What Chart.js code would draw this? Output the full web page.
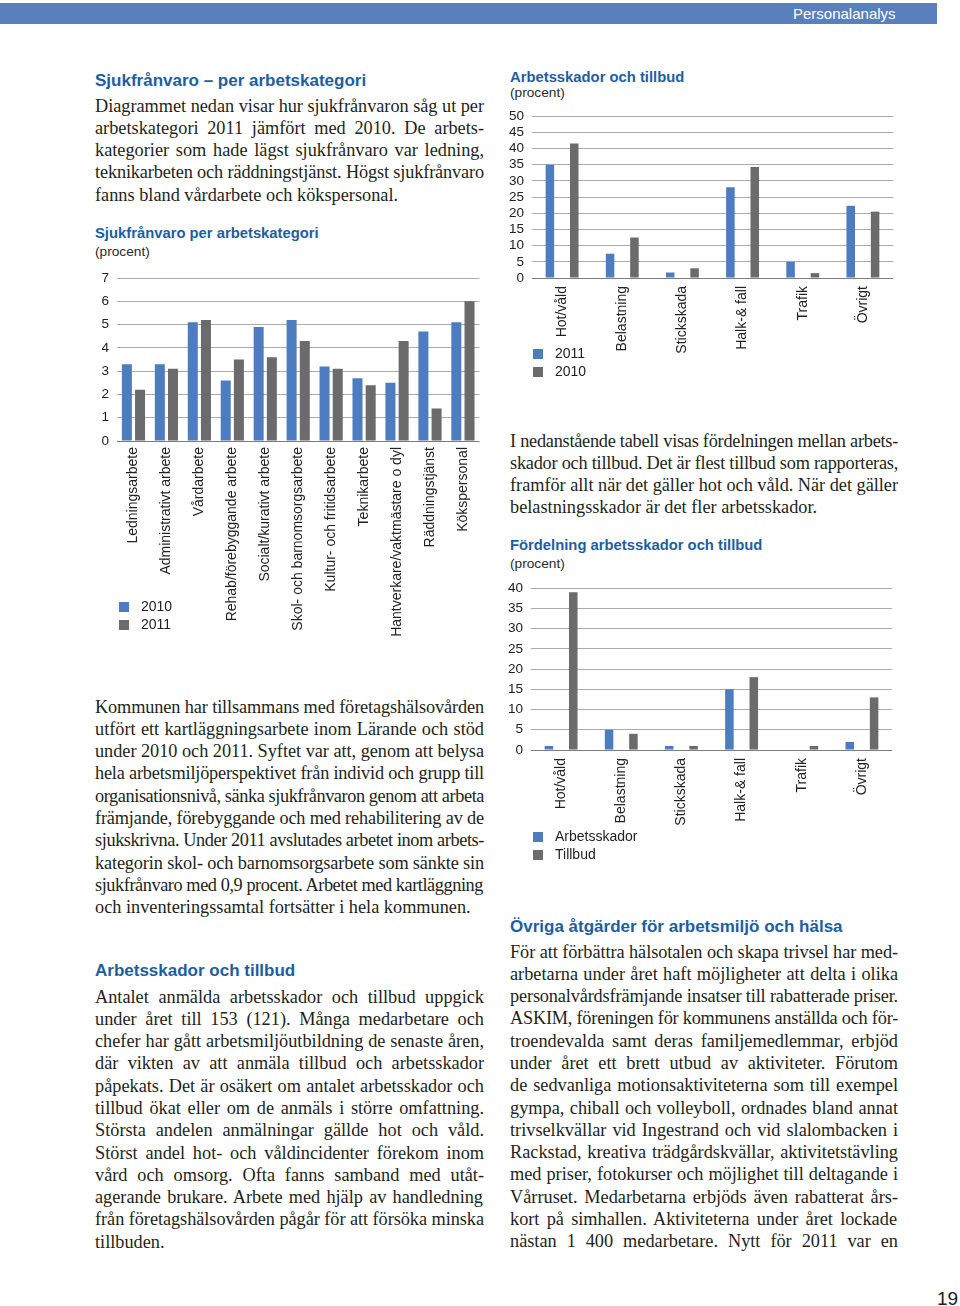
<!DOCTYPE html>
<html lang="sv">
<head>
<meta charset="utf-8">
<title>Personalanalys</title>
<script src="https://cdn.jsdelivr.net/npm/chart.js@4.4.0/dist/chart.umd.min.js"></script>
<style>
  body { margin: 0; width: 960px; height: 1306px; position: relative; background: #fff; overflow: hidden;
         font-family: "Liberation Sans", Arial, sans-serif; color: #231f20; }
  .topbar { position: absolute; left: 0; top: 3px; width: 937px; height: 21px; background: #5a7fbd; }
  .topbar span { position: absolute; left: 793px; top: 2px; color: #fff; font-size: 15px; line-height: 17px; }
  .head { position: absolute; margin: 0; font-size: 17px; font-weight: bold; color: #1d5ea3; line-height: 22px; white-space: nowrap; }
  .ctitle { position: absolute; font-size: 14.8px; font-weight: bold; color: #1d5ea3; line-height: 18px; white-space: nowrap; }
  .unit { position: absolute; font-size: 13.7px; color: #2b2b2b; line-height: 16px; }
  .para { position: absolute; font-family: "Liberation Serif", "Times New Roman", serif; font-size: 18.3px;
          line-height: 22.3px; color: #231f20; }
  .para div { white-space: nowrap; height: 22.3px; }
  .chartbox { position: absolute; }
  .legend { position: absolute; font-size: 14px; color: #222; }
  .legend div { height: 18.5px; line-height: 18.5px; white-space: nowrap; }
  .legend i { display: inline-block; width: 10px; height: 10px; margin-right: 12px; vertical-align: -1px; }
  .pageno { position: absolute; left: 937px; top: 1288px; font-size: 19px; line-height: 22px; color: #222; }
</style>
</head>
<body>

<div class="topbar"><span>Personalanalys</span></div>

<!-- left column -->
<div class="head" style="left:95px; top:70px;">Sjukfrånvaro – per arbetskategori</div>
<div class="para" id="p1" style="left:95px; top:94.5px; width:389px;"></div>

<div class="ctitle" style="left:95px; top:224px;">Sjukfrånvaro per arbetskategori</div>
<div class="unit" style="left:95px; top:244px;">(procent)</div>
<div class="chartbox" style="left:92px; top:262px;"><canvas id="sickChart" width="394" height="380"></canvas></div>
<div class="legend" id="sickLegend" style="left:119px; top:596.5px;"></div>

<div class="para" id="p2" style="left:95px; top:695.5px; width:389px;"></div>

<div class="head" style="left:95px; top:960px;">Arbetsskador och tillbud</div>
<div class="para" id="p3" style="left:95px; top:985.5px; width:389px;"></div>

<!-- right column -->
<div class="ctitle" style="left:510px; top:68px;">Arbetsskador och tillbud</div>
<div class="unit" style="left:510px; top:85px;">(procent)</div>
<div class="chartbox" style="left:505px; top:100px;"><canvas id="injuryChart" width="395" height="258"></canvas></div>
<div class="legend" id="injuryLegend" style="left:533px; top:343.5px;"></div>

<div class="para" id="p4" style="left:510px; top:429.5px; width:388px;"></div>

<div class="ctitle" style="left:510px; top:536px;">Fördelning arbetsskador och tillbud</div>
<div class="unit" style="left:510px; top:556px;">(procent)</div>
<div class="chartbox" style="left:505px; top:572px;"><canvas id="shareChart" width="395" height="258"></canvas></div>
<div class="legend" id="shareLegend" style="left:533px; top:826.5px;"></div>

<div class="head" style="left:510px; top:916px;">Övriga åtgärder för arbetsmiljö och hälsa</div>
<div class="para" id="p5" style="left:510px; top:940.5px; width:388px;"></div>

<div class="pageno">19</div>

<script>
// Sjukfrånvaro per arbetskategori (procent)
const workCategories = ['Ledningsarbete', 'Administrativt arbete', 'Vårdarbete', 'Rehab/förebyggande arbete',
    'Socialt/kurativt arbete', 'Skol- och barnomsorgsarbete', 'Kultur- och fritidsarbete', 'Teknikarbete',
    'Hantverkare/vaktmästare o dyl', 'Räddningstjänst', 'Kökspersonal'];
const sick2010 = [3.3, 3.3, 5.1, 2.6, 4.9, 5.2, 3.2, 2.7, 2.5, 4.7, 5.1];
const sick2011 = [2.2, 3.1, 5.2, 3.5, 3.6, 4.3, 3.1, 2.4, 4.3, 1.4, 6.0];
const sickTicks = { max: 7, step: 1 };

// Arbetsskador och tillbud (procent)
const injuryCategories = ['Hot/våld', 'Belastning', 'Stickskada', 'Halk-& fall', 'Trafik', 'Övrigt'];
const injuries2011 = [35, 7.5, 1.7, 28, 5, 22.3];
const injuries2010 = [41.5, 12.5, 3, 34.3, 1.5, 20.5];
const injuryTicks = { max: 50, step: 5 };

// Fördelning arbetsskador och tillbud (procent)
const shareArbetsskador = [1, 5, 1, 15, 0, 2];
const shareTillbud = [39, 4, 1, 18, 1, 13];
const shareTicks = { max: 40, step: 5 };

const BLUE = '#4d7cc1';
const GREY = '#6b6b6d';

// body text, one entry per printed line
const paragraphs = {
    p1: ['Diagrammet nedan visar hur sjukfrånvaron såg ut per',
        'arbetskategori 2011 jämfört med 2010. De arbets-',
        'kategorier som hade lägst sjukfrånvaro var ledning,',
        'teknikarbeten och räddningstjänst. Högst sjukfrånvaro',
        'fanns bland vårdarbete och kökspersonal.'],
    p2: ['Kommunen har tillsammans med företagshälsovården',
        'utfört ett kartläggningsarbete inom Lärande och stöd',
        'under 2010 och 2011. Syftet var att, genom att belysa',
        'hela arbetsmiljöperspektivet från individ och grupp till',
        'organisationsnivå, sänka sjukfrånvaron genom att arbeta',
        'främjande, förebyggande och med rehabilitering av de',
        'sjukskrivna. Under 2011 avslutades arbetet inom arbets-',
        'kategorin skol- och barnomsorgsarbete som sänkte sin',
        'sjukfrånvaro med 0,9 procent. Arbetet med kartläggning',
        'och inventeringssamtal fortsätter i hela kommunen.'],
    p3: ['Antalet anmälda arbetsskador och tillbud uppgick',
        'under året till 153 (121). Många medarbetare och',
        'chefer har gått arbetsmiljöutbildning de senaste åren,',
        'där vikten av att anmäla tillbud och arbetsskador',
        'påpekats. Det är osäkert om antalet arbetsskador och',
        'tillbud ökat eller om de anmäls i större omfattning.',
        'Största andelen anmälningar gällde hot och våld.',
        'Störst andel hot- och våldincidenter förekom inom',
        'vård och omsorg. Ofta fanns samband med utåt-',
        'agerande brukare. Arbete med hjälp av handledning',
        'från företagshälsovården pågår för att försöka minska',
        'tillbuden.'],
    p4: ['I nedanstående tabell visas fördelningen mellan arbets-',
        'skador och tillbud. Det är flest tillbud som rapporteras,',
        'framför allt när det gäller hot och våld. När det gäller',
        'belastningsskador är det fler arbetsskador.'],
    p5: ['För att förbättra hälsotalen och skapa trivsel har med-',
        'arbetarna under året haft möjligheter att delta i olika',
        'personalvårdsfrämjande insatser till rabatterade priser.',
        'ASKIM, föreningen för kommunens anställda och för-',
        'troendevalda samt deras familjemedlemmar, erbjöd',
        'under året ett brett utbud av aktiviteter. Förutom',
        'de sedvanliga motionsaktiviteterna som till exempel',
        'gympa, chiball och volleyboll, ordnades bland annat',
        'trivselkvällar vid Ingestrand och vid slalombacken i',
        'Rackstad, kreativa trädgårdskvällar, aktivitetstävling',
        'med priser, fotokurser och möjlighet till deltagande i',
        'Vårruset. Medarbetarna erbjöds även rabatterat års-',
        'kort på simhallen. Aktiviteterna under året lockade',
        'nästan 1 400 medarbetare. Nytt för 2011 var en']
};
// p5 continues on the next page, so its last line is justified too
const justifyLast = { p5: true };

// manual justification: spread words, or squeeze letters if a line is too long
const measure = document.createElement('canvas').getContext('2d');
Object.keys(paragraphs).forEach(id => {
    const box = document.getElementById(id);
    const cs = getComputedStyle(box);
    const width = parseFloat(cs.width);
    measure.font = cs.fontSize + ' ' + cs.fontFamily;
    paragraphs[id].forEach((line, i, all) => {
        const div = document.createElement('div');
        div.textContent = line;
        const natural = measure.measureText(line).width;
        const spaces = (line.match(/ /g) || []).length;
        const isLast = i === all.length - 1 && !justifyLast[id];
        const extra = width - natural;
        if (extra < 0) {
            div.style.letterSpacing = (extra / line.length) + 'px';
        } else if (!isLast && spaces > 0) {
            div.style.wordSpacing = (extra / spaces) + 'px';
        }
        box.appendChild(div);
    });
});

Chart.defaults.font.family = '"Liberation Sans", Arial, sans-serif';
Chart.defaults.color = '#222';

function barChart(id, labels, datasets, ticks, layout, bars) {
    return new Chart(document.getElementById(id), {
        type: 'bar',
        data: {
            labels: labels,
            datasets: datasets.map(d => ({
                label: d.label,
                data: d.data,
                backgroundColor: d.color,
                borderWidth: 0,
                categoryPercentage: bars.cat,
                barPercentage: bars.bar,
            })),
        },
        options: {
            responsive: false,
            animation: false,
            devicePixelRatio: 1,
            layout: { padding: { top: layout.top, right: layout.right, bottom: 0, left: 0 } },
            plugins: { legend: { display: false }, tooltip: { enabled: false } },
            scales: {
                x: {
                    grid: { display: false, drawTicks: false },
                    border: { display: false },
                    ticks: {
                        color: '#222', font: { size: 14 }, autoSkip: false,
                        minRotation: 90, maxRotation: 90, padding: layout.labelPad,
                    },
                    afterFit: scale => { scale.height = layout.axisH; },
                },
                y: {
                    min: 0,
                    max: ticks.max,
                    grid: {
                        color: ctx => (ctx.tick && ctx.tick.value === 0 ? '#7c7c7c' : '#ababab'),
                        drawTicks: false,
                        lineWidth: 1,
                    },
                    border: { display: false },
                    ticks: { stepSize: ticks.step, autoSkip: false, color: '#222', font: { size: 13.5 }, padding: 8 },
                    afterFit: scale => { scale.width = layout.axisW; },
                },
            },
        },
    });
}

function htmlLegend(chart, boxId) {
    const box = document.getElementById(boxId);
    chart.data.datasets.forEach(ds => {
        const row = document.createElement('div');
        const sw = document.createElement('i');
        sw.style.background = ds.backgroundColor;
        row.appendChild(sw);
        row.appendChild(document.createTextNode(ds.label));
        box.appendChild(row);
    });
}

const sickChart = barChart('sickChart', workCategories,
    [{ label: '2010', data: sick2010, color: BLUE }, { label: '2011', data: sick2011, color: GREY }],
    sickTicks,
    { top: 14, right: 6, axisW: 25, axisH: 201, labelPad: 6 },
    { cat: 0.8, bar: 0.76 });
htmlLegend(sickChart, 'sickLegend');

const injuryChart = barChart('injuryChart', injuryCategories,
    [{ label: '2011', data: injuries2011, color: BLUE }, { label: '2010', data: injuries2010, color: GREY }],
    injuryTicks,
    { top: 13, right: 7, axisW: 27, axisH: 80, labelPad: 8 },
    { cat: 0.81, bar: 0.35 });
htmlLegend(injuryChart, 'injuryLegend');

const shareChart = barChart('shareChart', injuryCategories,
    [{ label: 'Arbetsskador', data: shareArbetsskador, color: BLUE }, { label: 'Tillbud', data: shareTillbud, color: GREY }],
    shareTicks,
    { top: 13, right: 8, axisW: 26, axisH: 80, labelPad: 8 },
    { cat: 0.81, bar: 0.35 });
htmlLegend(shareChart, 'shareLegend');
</script>
</body>
</html>
